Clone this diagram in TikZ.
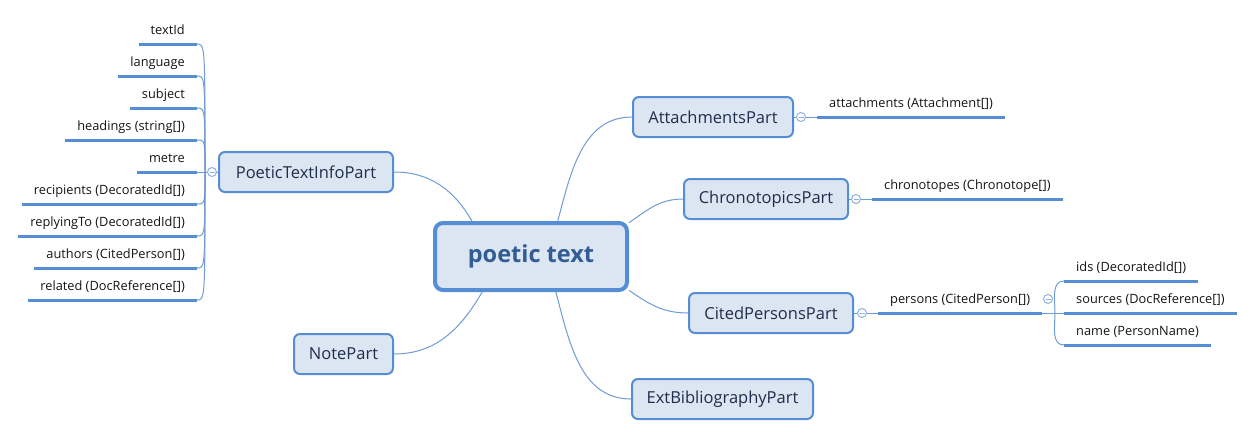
\documentclass[tikz,border=0pt]{standalone}
\usepackage{fontspec}
\setmainfont{Open Sans}
\usepackage{tikz}
\usetikzlibrary{backgrounds}
\definecolor{partFill}{RGB}{220, 230, 242}
\definecolor{partLine}{RGB}{85, 142, 213}
\definecolor{branchLine}{RGB}{110, 155, 215}
\definecolor{foldLine}{RGB}{140, 178, 225}
\definecolor{rootText}{RGB}{50, 92, 148}
\definecolor{partText}{RGB}{30, 45, 75}
\definecolor{leafText}{RGB}{20, 20, 20}

\begin{document}
\begin{tikzpicture}
  [
    x=1pt, y=1pt,
    Root/.style={rectangle, rounded corners=8pt, draw=partLine, fill=partFill, line width=4pt, minimum width=192pt, minimum height=67pt, text=rootText, font=\fontsize{23.5}{27}\selectfont\bfseries},
    Part/.style={rectangle, rounded corners=6pt, draw=partLine, fill=partFill, line width=2pt, minimum height=40pt, inner xsep=0pt, text=partText, font=\fontsize{16.5}{19}\selectfont},
    LeafL/.style={anchor=south east, inner xsep=12pt, inner ysep=9.5pt, text depth=0pt, text=leafText, font=\fontsize{12.8}{15}\selectfont},
    LeafR/.style={LeafL, anchor=south west},
    Under/.style={draw=partLine, line width=3pt},
    Branch/.style={draw=branchLine, line width=1pt},
    Fold/.style={circle, draw=foldLine, fill=white, line width=1pt, minimum size=9pt, inner sep=0pt,
      path picture={\draw[foldLine, line width=0.8pt] ([xshift=-2.5pt]path picture bounding box.center) -- ([xshift=2.5pt]path picture bounding box.center);}}
  ]
  \useasboundingbox (0, 0) rectangle (1252, -437);

  % Nodes
  \node[Root] (root) at(531, -256.5) {poetic text};
  \node[Part, minimum width=174pt] (info) at(306, -172) {PoeticTextInfoPart};
  \node[Part, minimum width=99pt] (note) at(343.5, -354) {NotePart};
  \node[Part, minimum width=160pt] (att) at(713, -117) {AttachmentsPart};
  \node[Part, minimum width=164pt] (chrono) at(766, -199) {ChronotopicsPart};
  \node[Part, minimum width=164pt] (cited) at(771, -313) {CitedPersonsPart};
  \node[Part, minimum width=181pt] (ext) at(722.5, -399) {ExtBibliographyPart};

  % left leaves
  \node[LeafL] (textId) at(197, -44) {textId};
  \node[LeafL] (language) at(197, -76) {language};
  \node[LeafL] (subject) at(197, -108) {subject};
  \node[LeafL] (headings) at(197, -140) {headings (string[])};
  \node[LeafL] (metre) at(197, -172) {metre};
  \node[LeafL] (recipients) at(197, -204) {recipients (DecoratedId[])};
  \node[LeafL] (replyingTo) at(197, -236) {replyingTo (DecoratedId[])};
  \node[LeafL] (authors) at(197, -268) {authors (CitedPerson[])};
  \node[LeafL] (related) at(197, -300) {related (DocReference[])};
  \node[Fold] (fInfo) at(212, -172) {};
  \coordinate (jInfo) at(205, -172);

  % right leaves
  \node[Fold] (fAtt) at(801, -117) {};
  \node[LeafR] (attachments) at(817, -117) {attachments (Attachment[])};
  \node[Fold] (fChr) at(856, -199) {};
  \node[LeafR] (chronotopes) at(872, -199) {chronotopes (Chronotope[])};
  \node[Fold] (fCit) at(862, -313) {};
  \node[LeafR] (persons) at(878, -313) {persons (CitedPerson[])};
  \node[Fold] (fPer) at(1048, -299) {};
  \coordinate (jPer) at(1055, -313);
  \node[LeafR] (ids) at(1064, -281) {ids (DecoratedId[])};
  \node[LeafR] (sources) at(1064, -313) {sources (DocReference[])};
  \node[LeafR] (name) at(1064, -345) {name (PersonName)};

  % Lines
  \begin{scope}[on background layer]
    \path [draw, Branch] (root.149) to[out=120, in=0] (info.east);
    \path [draw, Branch] (root.-144) to[out=-120, in=0] (note.east);
    \path [draw, Branch] (root.53) to[out=75, in=180] (att.west);
    \path [draw, Branch] (root.19) to[out=35, in=180] (chrono.west);
    \path [draw, Branch] (root.-19) to[out=-35, in=180] (cited.west);
    \path [draw, Branch] (root.-55) to[out=-75, in=180] (ext.west);
  \end{scope}

  \path [draw, Branch] (info.west) -- (fInfo.east);
  \path [draw, Branch] (fInfo.west) -- (metre.south east);
  \path [draw, Branch] (jInfo) .. controls (jInfo |- textId.south east) .. (textId.south east);
  \path [draw, Branch] (jInfo) .. controls (jInfo |- language.south east) .. (language.south east);
  \path [draw, Branch] (jInfo) .. controls (jInfo |- subject.south east) .. (subject.south east);
  \path [draw, Branch] (jInfo) .. controls (jInfo |- headings.south east) .. (headings.south east);
  \path [draw, Branch] (jInfo) .. controls (jInfo |- recipients.south east) .. (recipients.south east);
  \path [draw, Branch] (jInfo) .. controls (jInfo |- replyingTo.south east) .. (replyingTo.south east);
  \path [draw, Branch] (jInfo) .. controls (jInfo |- authors.south east) .. (authors.south east);
  \path [draw, Branch] (jInfo) .. controls (jInfo |- related.south east) .. (related.south east);

  \path [draw, Branch] (att.east) -- (fAtt.west);
  \path [draw, Branch] (fAtt.east) -- (attachments.south west);
  \path [draw, Branch] (chrono.east) -- (fChr.west);
  \path [draw, Branch] (fChr.east) -- (chronotopes.south west);
  \path [draw, Branch] (cited.east) -- (fCit.west);
  \path [draw, Branch] (fCit.east) -- (persons.south west);
  \path [draw, Branch] (persons.south east) -- (sources.south west);
  \path [draw, Branch] (jPer) to[out=90, in=180] (ids.south west);
  \path [draw, Branch] (jPer) to[out=-90, in=180] (name.south west);

  % underlines
  \path [Under] (textId.south west) -- (textId.south east);
  \path [Under] (language.south west) -- (language.south east);
  \path [Under] (subject.south west) -- (subject.south east);
  \path [Under] (headings.south west) -- (headings.south east);
  \path [Under] (metre.south west) -- (metre.south east);
  \path [Under] (recipients.south west) -- (recipients.south east);
  \path [Under] (replyingTo.south west) -- (replyingTo.south east);
  \path [Under] (authors.south west) -- (authors.south east);
  \path [Under] (related.south west) -- (related.south east);
  \path [Under] (attachments.south west) -- (attachments.south east);
  \path [Under] (chronotopes.south west) -- (chronotopes.south east);
  \path [Under] (persons.south west) -- (persons.south east);
  \path [Under] (ids.south west) -- (ids.south east);
  \path [Under] (sources.south west) -- (sources.south east);
  \path [Under] (name.south west) -- (name.south east);

\end{tikzpicture}
\end{document}
